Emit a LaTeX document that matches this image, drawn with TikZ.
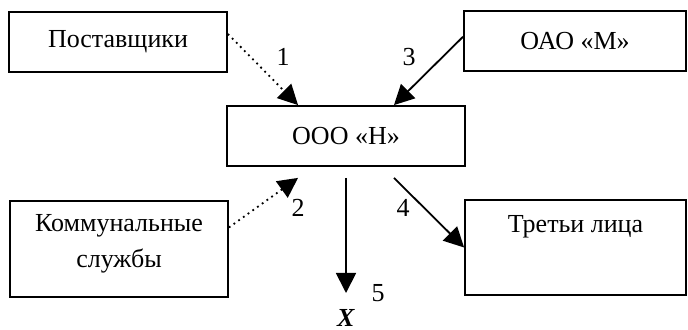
\documentclass[tikz,border=0pt]{standalone}
\usepackage{fontspec}
\setmainfont{Liberation Serif}
\newfontfamily\labelfont{Liberation Serif}
\usepackage{tikz}
\usetikzlibrary{arrows.meta,positioning,calc}

\begin{document}
\begin{tikzpicture}[
    x=0.5pt, y=-0.5pt,
    every node/.style={font=\labelfont\fontsize{13}{18}\selectfont},
    box/.style={rectangle, draw=black, line width=0.9pt, inner sep=0pt},
    tag/.style={inner sep=0pt},
    flow/.style={-{Triangle[length=10pt,width=10pt]}, line width=0.9pt},
    aux/.style={flow, dotted}
]
    \useasboundingbox (0,0) rectangle (688,330);

    % Boxes
    \node[box, minimum width=109pt, minimum height=30pt] (post) at (118,42) {Поставщики};
    \node[box, minimum width=111pt, minimum height=30pt] (oao) at (575,41) {ОАО «М»};
    \node[box, minimum width=119pt, minimum height=30pt] (ooo) at (346,136) {ООО «Н»};
    \node[box, minimum width=109pt, minimum height=48pt] (komm) at (119,249) {};
    \node[box, minimum width=110.5pt, minimum height=47.5pt] (tret) at (575.5,247.5) {};
    \node[tag, align=center, below=7pt of komm.north] (kommtxt) {Коммунальные\\службы};
    \node[tag, below=8pt of tret.north] (trettxt) {Третьи лица};

    % End points on the box edges
    \coordinate (s1) at ($(post.north east)!0.37!(post.south east)$);
    \coordinate (s3) at ($(oao.north west)!0.43!(oao.south west)$);
    \coordinate (s2) at ($(komm.north east)!0.28!(komm.south east)$);
    \coordinate (t1) at ($(ooo.north west)!0.3!(ooo.north east)$);
    \coordinate (t3) at ($(ooo.north west)!0.7!(ooo.north east)$);
    \coordinate (t2) at ($(ooo.south west)!0.3!(ooo.south east)+(0,11)$);
    \coordinate (s5) at ($(ooo.south)+(0,11)$);
    \coordinate (s4) at ($(ooo.south west)!0.7!(ooo.south east)+(0,11)$);
    \coordinate (t5) at (346,293);

    % Flows
    \draw[aux] (s1) -- (t1);
    \draw[aux] (s2) -- (t2);
    \draw[flow] (s3) -- (t3);
    \draw[flow] (s4) -- (tret.west);
    \draw[flow] (s5) -- (t5);

    % Numbers
    \node[tag] (n1) at (283,57) {1};
    \node[tag] (n2) at (298,208) {2};
    \node[tag] (n3) at (409,57) {3};
    \node[tag] (n4) at (403,208) {4};
    \node[tag] (n5) at (378,293) {5};
    \node[tag] (x) at (346,318) {\textbf{\textit{X}}};
\end{tikzpicture}
\end{document}
